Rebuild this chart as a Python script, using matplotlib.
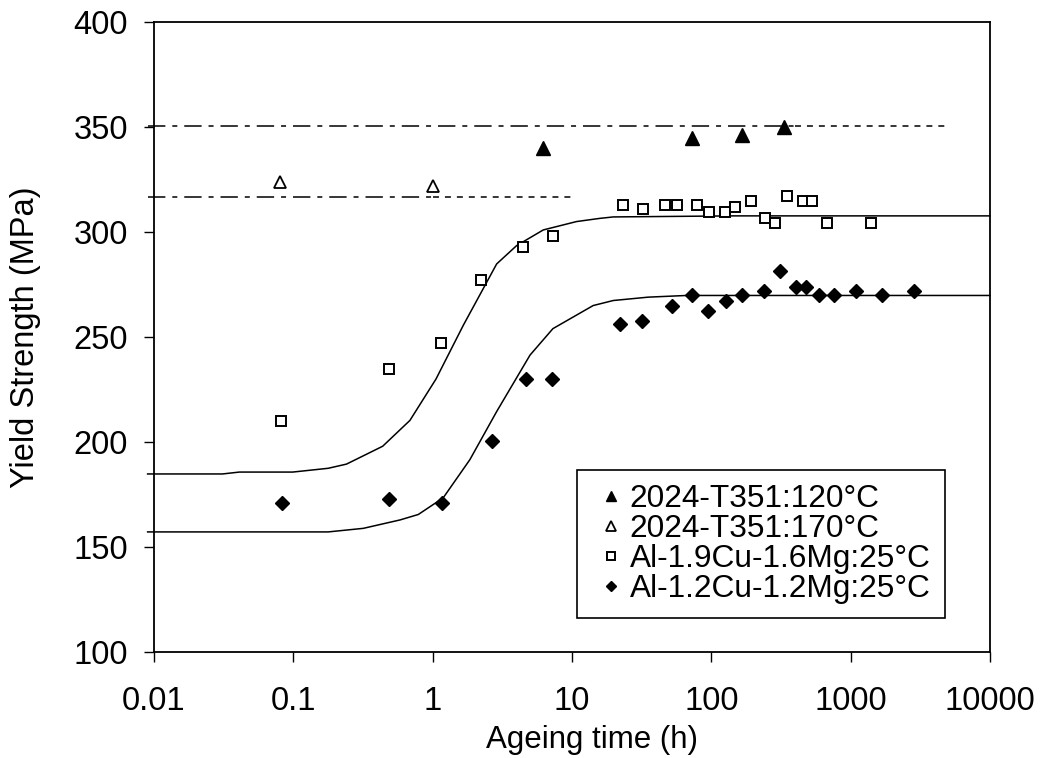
import matplotlib
matplotlib.use('Agg')
import matplotlib.pyplot as plt

plt.rcParams.update({
    'font.family': ['Liberation Sans', 'DejaVu Sans'],
    'font.size': 23,
    'lines.scale_dashes': False,
})

# ── Data ────────────────────────────────────────────────────
t351_120_t = [6.2, 73, 166, 333]
t351_120_ys = [340, 345, 346, 350]

t351_170_t = [0.08, 1.0]
t351_170_ys = [324, 322]

cu19_t = [0.082, 0.49, 1.15, 2.22, 4.45, 7.35, 23.4, 32.5, 46.8, 57, 79.4,
          96.8, 126, 148.6, 193.6, 243.8, 287.6, 351, 452, 531, 681, 1406]
cu19_ys = [210, 235, 247, 277, 293, 298, 313, 311, 313, 313, 313,
           309.5, 309.5, 312, 315, 306.5, 304.5, 317, 315, 315, 304.5, 304.5]

cu12_t = [0.083, 0.49, 1.17, 2.65, 4.68, 7.2, 22.1, 31.8, 52.2, 72.6, 94.6,
          127.4, 166, 239, 311, 405, 478, 589, 759, 1091, 1679, 2851]
cu12_ys = [171, 173, 171, 200.5, 230, 230, 256, 257.5, 265, 270, 262.5,
           267, 270, 272, 281.5, 274, 274, 270, 270, 272, 270, 272]

# model curves (vertices)
fit19_t = [0.009, 0.031, 0.041, 0.099, 0.178, 0.241, 0.438, 0.687, 1.057, 1.66,
           2.88, 4.0, 6.22, 10.8, 15.8, 19.8, 143, 10000]
fit19_ys = [184.8, 184.8, 185.7, 185.7, 187.5, 189.5, 198, 210.3, 230, 255.6,
            284.8, 293.5, 301, 305, 306.5, 307.2, 307.7, 307.7]

fit12_t = [0.009, 0.178, 0.318, 0.583, 0.789, 1.19, 1.85, 2.88, 5.0, 7.3,
           14.2, 19.8, 35.3, 66.4, 10000]
fit12_ys = [157.2, 157.2, 158.9, 162.9, 165.5, 173.4, 191.6, 214.5, 241.4, 254,
            265, 267.4, 269, 269.8, 269.8]

# reference levels for 2024-T351 (dash-dot over data range, dotted beyond)
lvl120 = 350.5
lvl120_span = [0.009, 400, 5000]
lvl170 = 316.5
lvl170_span = [0.009, 1.0, 10]

labels = ['2024-T351:120°C', '2024-T351:170°C',
          'Al-1.9Cu-1.6Mg:25°C', 'Al-1.2Cu-1.2Mg:25°C']

# ── Figure ──────────────────────────────────────────────────
fig = plt.figure(figsize=(10.42, 7.58), dpi=100)
ax = fig.add_axes([0.1478, 0.1398, 0.8022, 0.8311])

dashdot = (0, (12.5, 5, 3.6, 5))
dotted = (0, (4.3, 4.3))
lw = 1.1

ax.plot(lvl120_span[:2], [lvl120] * 2, color='black', lw=lw, ls=dashdot, clip_on=False)
ax.plot(lvl120_span[1:], [lvl120] * 2, color='black', lw=lw, ls=dotted)
ax.plot(lvl170_span[:2], [lvl170] * 2, color='black', lw=lw, ls=dashdot, clip_on=False)
ax.plot(lvl170_span[1:], [lvl170] * 2, color='black', lw=lw, ls=dotted)

ax.plot(fit19_t, fit19_ys, color='black', lw=lw, clip_on=False)
ax.plot(fit12_t, fit12_ys, color='black', lw=lw, clip_on=False)

ax.plot(t351_120_t, t351_120_ys, ls='none', marker='^', ms=9.6,
        mfc='black', mec='black', label=labels[0], zorder=5)
ax.plot(t351_170_t, t351_170_ys, ls='none', marker='^', ms=9.3,
        mfc='white', mec='black', mew=1.3, label=labels[1], zorder=5)
ax.plot(cu19_t, cu19_ys, ls='none', marker='s', ms=7.5,
        mfc='white', mec='black', mew=1.4, label=labels[2], zorder=5)
ax.plot(cu12_t, cu12_ys, ls='none', marker='D', ms=7,
        mfc='black', mec='black', label=labels[3], zorder=5)

ax.set_xscale('log')
ax.set_xlim(0.01, 10000)
ax.set_ylim(100, 400)
ax.set_xticks([0.01, 0.1, 1, 10, 100, 1000, 10000])
ax.set_xticklabels(['0.01', '0.1', '1', '10', '100', '1000', '10000'])
ax.minorticks_off()
ax.set_yticks(range(100, 401, 50))
ax.tick_params(direction='out', length=7.2, width=1.0, labelsize=23.5)
ax.tick_params(axis='x', pad=17)
ax.tick_params(axis='y', pad=11.5)

for s in ax.spines.values():
    s.set_linewidth(1.3)

ax.set_xlabel('Ageing time (h)', fontsize=22.5, labelpad=6, x=0.524)
ax.set_ylabel('Yield Strength (MPa)', fontsize=23.5, labelpad=23)

leg = ax.legend(loc='lower left', bbox_to_anchor=(0.506, 0.054),
                borderaxespad=0, fancybox=False, framealpha=1,
                edgecolor='black', fontsize=22.8, markerscale=0.8,
                handlelength=1.26, handletextpad=-0.05, labelspacing=0.0,
                borderpad=0.45)
leg.get_frame().set_linewidth(1.2)

fig.savefig('out.png', dpi=100, facecolor='white')
